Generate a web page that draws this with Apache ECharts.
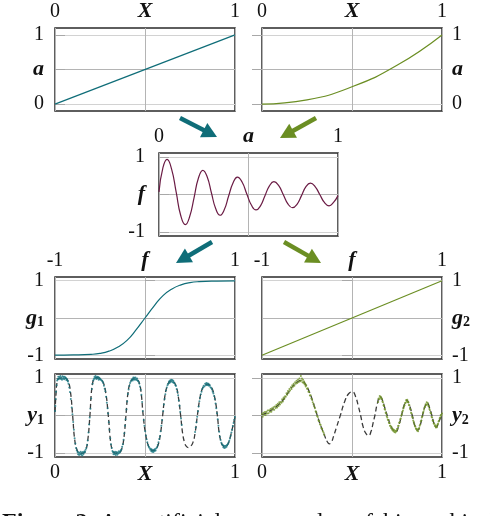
<!DOCTYPE html>
<html>
<head>
<meta charset="utf-8">
<script src="https://cdn.jsdelivr.net/npm/echarts@6/dist/echarts.min.js"></script>
<style>
  html, body { margin: 0; padding: 0; background: #fff; }
  #chart { width: 490px; height: 516px; }
</style>
</head>
<body>
<div id="chart"></div>
<script>
// X -> a (two encoders), a -> f, f -> g1 / g2, X -> y1 / y2
var aLinear = [[0, 0], [1, 1]];
var aSquare = [[0, 0], [0.25, 0.06], [0.5, 0.25], [0.75, 0.56], [1, 1]];
var fCurve = [
  [0.000,0.07],[0.022,0.71],[0.045,0.93],[0.070,0.68],[0.096,0.06],[0.121,-0.55],[0.147,-0.80],
  [0.171,-0.59],[0.196,-0.08],[0.220,0.43],[0.245,0.64],[0.269,0.47],[0.293,0.04],[0.317,-0.38],
  [0.341,-0.55],[0.365,-0.40],[0.389,-0.04],[0.414,0.31],[0.438,0.46],[0.464,0.33],[0.490,0.02],
  [0.516,-0.28],[0.542,-0.41],[0.567,-0.30],[0.592,-0.03],[0.617,0.23],[0.642,0.34],[0.668,0.24],
  [0.694,0.00],[0.720,-0.25],[0.746,-0.35],[0.771,-0.26],[0.796,-0.03],[0.821,0.21],[0.846,0.30],
  [0.872,0.21],[0.898,0.00],[0.924,-0.21],[0.950,-0.30],[0.975,-0.21],[1.000,-0.03]
];
var g1Curve = [
  [-1,-0.995],[-0.8,-0.99],[-0.6,-0.975],[-0.5,-0.95],[-0.4,-0.89],[-0.3,-0.78],[-0.2,-0.6],[-0.1,-0.32],[0,0],
  [0.1,0.32],[0.2,0.6],[0.3,0.78],[0.4,0.89],[0.5,0.95],[0.6,0.975],[0.8,0.99],[1,0.995]
];
var g2Line = [[-1, -1], [1, 1]];

var y1Curve = [
  [0.000,0.10],[0.006,0.60],[0.012,0.90],[0.020,0.98],[0.046,1.00],[0.059,0.99],[0.072,0.92],[0.085,0.66],[0.098,0.00],
  [0.110,-0.66],[0.123,-0.92],[0.135,-0.99],[0.148,-1.00],[0.160,-0.99],[0.171,-0.92],[0.182,-0.66],[0.194,0.00],
  [0.203,0.66],[0.212,0.92],[0.222,0.99],[0.231,1.00],[0.247,0.99],[0.263,0.92],[0.280,0.66],[0.296,0.00],
  [0.308,-0.66],[0.319,-0.92],[0.331,-0.99],[0.343,-1.00],[0.356,-0.99],[0.368,-0.92],[0.381,-0.66],[0.394,0.00],
  [0.406,0.62],[0.419,0.88],[0.431,0.96],[0.444,0.98],[0.455,0.96],[0.467,0.88],[0.478,0.62],[0.490,0.00],
  [0.504,-0.51],[0.518,-0.79],[0.532,-0.90],[0.546,-0.93],[0.559,-0.90],[0.572,-0.79],[0.585,-0.51],[0.598,0.00],
  [0.610,0.50],[0.623,0.78],[0.635,0.89],[0.648,0.92],[0.660,0.89],[0.673,0.78],[0.685,0.50],[0.698,0.00],
  [0.709,-0.47],[0.720,-0.72],[0.730,-0.82],[0.741,-0.85],[0.753,-0.82],[0.766,-0.72],[0.778,-0.47],[0.791,0.00],
  [0.805,0.46],[0.818,0.70],[0.832,0.80],[0.846,0.83],[0.860,0.80],[0.874,0.70],[0.888,0.46],[0.902,0.00],
  [0.912,-0.46],[0.923,-0.70],[0.933,-0.80],[0.944,-0.83],[0.958,-0.78],[0.972,-0.60],[0.986,-0.33],[1.000,-0.05]
];
var y1Points = [
  [0.000,0.12],[0.002,0.25],[0.004,0.44],[0.006,0.63],[0.009,0.80],[0.012,0.93],[0.015,0.97],[0.018,1.03],[0.021,0.96],
  [0.024,1.02],[0.027,0.99],[0.030,1.05],[0.033,0.97],[0.036,1.01],[0.039,0.95],[0.042,1.04],[0.045,0.98],[0.048,1.02],
  [0.051,0.96],[0.054,1.03],[0.057,0.99],[0.060,1.00],[0.063,0.94],[0.066,0.97],[0.069,0.93],[0.072,0.90],[0.075,0.84],
  [0.079,0.74],[0.083,0.62],[0.088,0.44],[0.093,0.21],[0.097,0.03],
  [0.101,-0.17],[0.105,-0.38],[0.109,-0.60],[0.113,-0.74],[0.117,-0.86],[0.121,-0.92],[0.125,-0.97],[0.128,-1.03],
  [0.131,-0.98],[0.134,-1.05],[0.137,-0.99],[0.140,-1.02],[0.143,-0.96],[0.146,-1.04],[0.149,-1.00],[0.152,-1.06],
  [0.155,-0.97],[0.158,-1.02],[0.161,-0.98],[0.164,-0.95],[0.167,-0.97],[0.170,-0.91],[0.174,-0.86],[0.178,-0.78],
  [0.182,-0.66],[0.186,-0.45],[0.190,-0.24],[0.193,-0.05],
  [0.197,0.18],[0.201,0.45],[0.205,0.70],[0.209,0.84],[0.213,0.93],[0.216,0.97],[0.219,1.02],[0.222,0.98],[0.225,1.05],
  [0.228,1.01],[0.231,0.97],[0.234,1.03],[0.237,0.99],[0.240,1.02],[0.243,0.95],[0.246,1.00],[0.249,0.96],[0.252,0.97],
  [0.256,0.94],[0.260,0.93],[0.264,0.90],[0.268,0.86],[0.272,0.79],[0.276,0.71],[0.280,0.64],[0.284,0.50],[0.288,0.34],
  [0.292,0.19],[0.295,0.05],
  [0.299,-0.18],[0.303,-0.38],[0.307,-0.60],[0.311,-0.76],[0.315,-0.86],[0.319,-0.94],[0.322,-0.97],[0.325,-1.03],
  [0.328,-0.98],[0.331,-1.02],[0.334,-0.96],[0.337,-1.05],[0.340,-1.00],[0.343,-0.97],[0.346,-1.04],[0.349,-0.99],
  [0.352,-1.01],[0.355,-0.95],[0.358,-0.99],[0.361,-0.97],[0.365,-0.93],[0.369,-0.90],[0.373,-0.83],[0.377,-0.76],
  [0.381,-0.64],[0.385,-0.47],[0.389,-0.27],[0.392,-0.10],
  [0.397,0.16],[0.401,0.37],[0.405,0.57],[0.409,0.69],[0.413,0.78],[0.417,0.86],[0.421,0.90],[0.425,0.94],[0.429,0.97],
  [0.432,0.93],[0.435,1.01],[0.438,0.96],[0.441,1.00],[0.444,0.95],[0.447,1.01],[0.450,0.97],[0.453,0.94],[0.456,0.98],
  [0.460,0.92],[0.464,0.90],[0.468,0.85],[0.472,0.77],[0.476,0.68],[0.480,0.55],[0.484,0.36],[0.488,0.12],
  [0.493,-0.12],[0.497,-0.27],[0.501,-0.42],[0.505,-0.53],[0.509,-0.63],[0.513,-0.71],[0.517,-0.78],[0.521,-0.83],
  [0.525,-0.86],[0.529,-0.91],[0.532,-0.88],[0.535,-0.95],[0.538,-0.90],[0.541,-0.96],[0.544,-0.92],[0.547,-0.97],
  [0.550,-0.91],[0.553,-0.94],[0.556,-0.89],[0.559,-0.93],[0.563,-0.87],[0.567,-0.84],[0.571,-0.78],[0.575,-0.71],
  [0.579,-0.62],[0.583,-0.55],[0.587,-0.42],[0.591,-0.27],[0.595,-0.12],
  [0.601,0.12],[0.605,0.29],[0.609,0.44],[0.613,0.56],[0.617,0.66],[0.621,0.74],[0.625,0.80],[0.629,0.84],[0.633,0.90],
  [0.636,0.86],[0.639,0.93],[0.642,0.89],[0.645,0.95],[0.648,0.91],[0.651,0.94],[0.654,0.88],[0.657,0.92],[0.660,0.87],
  [0.664,0.86],[0.668,0.81],[0.672,0.78],[0.676,0.70],[0.680,0.62],[0.684,0.54],[0.688,0.40],[0.692,0.26],[0.696,0.10],
  [0.700,-0.08],[0.704,-0.25],
  [0.778,-0.44],[0.782,-0.32],[0.786,-0.18],[0.790,-0.03],
  [0.794,0.11],[0.798,0.24],[0.802,0.38],[0.806,0.47],[0.810,0.56],[0.814,0.63],[0.818,0.70],[0.822,0.74],[0.826,0.79],
  [0.830,0.77],[0.834,0.84],[0.838,0.80],[0.841,0.86],[0.844,0.81],[0.847,0.85],[0.850,0.80],[0.853,0.84],[0.856,0.79],
  [0.860,0.80],[0.864,0.75],[0.868,0.73],[0.872,0.69],[0.876,0.63],[0.880,0.58],[0.884,0.52],[0.888,0.44],[0.892,0.32],
  [0.896,0.19],[0.900,0.06],
  [0.904,-0.10],[0.908,-0.27],[0.912,-0.43],[0.916,-0.56],[0.920,-0.65],[0.924,-0.72],[0.928,-0.77],[0.932,-0.78],
  [0.935,-0.84],[0.938,-0.80],[0.941,-0.86],[0.944,-0.81],[0.947,-0.85],[0.950,-0.80],[0.953,-0.83],[0.956,-0.78],
  [0.960,-0.76],[0.964,-0.72],[0.968,-0.67],[0.972,-0.61],[0.976,-0.54],[0.980,-0.45],[0.984,-0.38],[0.988,-0.28],
  [0.992,-0.20],[0.996,-0.11],[1.000,-0.04]
];

var y2Curve = [
  [0.000,0.02],[0.030,0.08],[0.060,0.17],[0.090,0.28],[0.120,0.43],[0.150,0.64],[0.175,0.80],[0.200,0.90],[0.215,0.93],
  [0.230,0.90],[0.245,0.80],[0.260,0.66],[0.275,0.48],[0.290,0.26],[0.305,0.03],[0.320,-0.19],[0.335,-0.38],[0.350,-0.56],
  [0.362,-0.69],[0.374,-0.75],[0.385,-0.71],[0.397,-0.56],[0.412,-0.34],[0.435,0.00],[0.460,0.38],[0.480,0.57],[0.502,0.63],
  [0.520,0.50],[0.535,0.25],[0.548,0.00],[0.562,-0.30],[0.578,-0.48],[0.592,-0.53],[0.606,-0.42],[0.617,-0.20],[0.628,0.02],
  [0.640,0.30],[0.656,0.50],[0.668,0.42],[0.680,0.24],[0.700,-0.06],[0.720,-0.32],[0.743,-0.43],[0.760,-0.26],[0.775,0.00],
  [0.790,0.28],[0.805,0.40],[0.820,0.26],[0.835,0.00],[0.850,-0.28],[0.866,-0.39],[0.880,-0.24],[0.892,0.00],[0.905,0.24],
  [0.918,0.33],[0.931,0.20],[0.944,0.00],[0.956,-0.22],[0.968,-0.31],[0.984,-0.15],[1.000,0.02]
];
var y2Points = [
  [0.000,0.04],[0.004,-0.03],[0.008,0.07],[0.012,0.02],[0.016,0.09],[0.020,0.01],[0.024,0.10],[0.028,0.05],[0.032,0.13],
  [0.036,0.06],[0.040,0.14],[0.044,0.10],[0.048,0.17],[0.052,0.10],[0.056,0.19],[0.060,0.15],[0.064,0.22],[0.068,0.15],
  [0.072,0.24],[0.076,0.20],[0.080,0.28],[0.084,0.21],[0.088,0.31],[0.092,0.25],[0.096,0.35],[0.100,0.29],[0.104,0.36],
  [0.108,0.34],[0.112,0.43],[0.116,0.37],[0.120,0.48],[0.124,0.44],[0.128,0.51],[0.132,0.50],[0.136,0.59],[0.140,0.55],
  [0.144,0.65],[0.148,0.60],[0.152,0.70],[0.156,0.66],[0.160,0.75],[0.164,0.70],[0.168,0.80],[0.172,0.76],[0.176,0.84],
  [0.180,0.79],[0.184,0.88],[0.188,0.84],[0.192,0.92],[0.196,0.86],[0.200,0.95],[0.204,0.89],[0.208,0.98],[0.212,0.91],
  [0.216,1.05],[0.219,0.93],[0.222,0.98],[0.225,0.88],[0.228,0.95],[0.231,0.86],[0.234,0.90],[0.237,0.82],[0.240,0.85],
  [0.243,0.77],[0.246,0.80],[0.250,0.71],[0.254,0.72],[0.258,0.63],[0.262,0.63],[0.266,0.53],[0.270,0.54],[0.274,0.45],
  [0.278,0.42],[0.282,0.35],[0.286,0.30],[0.290,0.24],[0.294,0.19],[0.298,0.11],[0.302,0.08],[0.306,-0.01],[0.310,-0.04],
  [0.314,-0.13],[0.318,-0.15],[0.322,-0.23],[0.326,-0.25],[0.330,-0.34],[0.334,-0.35],[0.338,-0.42],[0.342,-0.45],
  [0.346,-0.51],
  [0.645,0.36],[0.648,0.45],[0.651,0.43],[0.654,0.52],[0.657,0.47],[0.660,0.50],[0.663,0.44],[0.666,0.45],[0.669,0.37],
  [0.672,0.35],[0.675,0.27],[0.678,0.25],[0.681,0.17],[0.684,0.15],[0.687,0.07],[0.690,0.05],[0.693,-0.02],[0.696,-0.05],
  [0.699,-0.11],[0.702,-0.12],[0.705,-0.19],[0.708,-0.20],[0.711,-0.27],[0.714,-0.27],[0.717,-0.33],[0.720,-0.31],
  [0.723,-0.38],[0.726,-0.36],[0.729,-0.41],[0.732,-0.38],[0.735,-0.44],[0.738,-0.40],[0.741,-0.45],[0.744,-0.41],
  [0.747,-0.42],[0.750,-0.36],[0.753,-0.36],[0.756,-0.28],[0.759,-0.27],[0.762,-0.19],[0.765,-0.18],[0.768,-0.10],
  [0.771,-0.08],[0.774,0.00],[0.777,0.03],[0.780,0.10],[0.783,0.13],[0.786,0.19],[0.789,0.23],[0.792,0.27],[0.795,0.33],
  [0.798,0.34],[0.801,0.41],[0.804,0.37],[0.807,0.42],[0.810,0.35],[0.813,0.36],[0.816,0.28],[0.819,0.27],[0.822,0.18],
  [0.825,0.16],[0.828,0.07],[0.831,0.05],[0.834,-0.03],[0.837,-0.06],[0.840,-0.13],[0.843,-0.17],[0.846,-0.22],
  [0.849,-0.27],[0.852,-0.30],[0.855,-0.35],[0.858,-0.35],[0.861,-0.40],[0.864,-0.37],[0.867,-0.42],[0.870,-0.35],
  [0.873,-0.34],[0.876,-0.27],[0.879,-0.24],[0.882,-0.16],[0.885,-0.13],[0.888,-0.05],[0.891,-0.02],[0.894,0.06],
  [0.897,0.10],[0.900,0.15],[0.903,0.21],[0.906,0.23],[0.909,0.30],[0.912,0.28],[0.915,0.35],[0.918,0.30],[0.921,0.33],
  [0.924,0.26],[0.927,0.24],[0.930,0.17],[0.933,0.14],[0.936,0.07],[0.939,0.05],[0.942,-0.03],[0.945,-0.05],[0.948,-0.13],
  [0.951,-0.14],[0.954,-0.21],[0.957,-0.22],[0.960,-0.28],[0.963,-0.26],[0.966,-0.32],[0.969,-0.28],[0.972,-0.31],
  [0.975,-0.24],[0.978,-0.22],[0.981,-0.16],[0.984,-0.13],[0.987,-0.07],[0.990,-0.05],[0.993,0.01],[0.996,0.00],[1.000,0.05]
];

var captionWords = ['An', 'artificial', 'example', 'of', 'hierarchical'];
var captionX = [100, 140, 253, 353, 383];

var teal = '#0f6d78', green = '#6b8e23', plum = '#6a1b44', dashGray = '#3a3a3a';
var serif = 'Liberation Serif';

var panels = [
  { left: 55,  top: 28,  width: 180, height: 83 },
  { left: 262, top: 28,  width: 180, height: 83 },
  { left: 159, top: 153, width: 179, height: 83 },
  { left: 55,  top: 277, width: 180, height: 82 },
  { left: 262, top: 277, width: 180, height: 82 },
  { left: 55,  top: 374, width: 180, height: 83 },
  { left: 262, top: 374, width: 180, height: 83 }
];

var rich = {
  n: { fontFamily: serif, fontSize: 22, fontWeight: 'bold', fontStyle: 'italic', color: '#111' },
  s: { fontFamily: serif, fontSize: 14, fontWeight: 'bold', color: '#111', padding: [9, 0, 0, 0] }
};

function xAx(i, lo, hi, name, pos) {
  return {
    type: 'value', gridIndex: i, min: lo, max: hi, interval: (hi - lo) / 2, position: pos,
    axisLine: { show: false }, axisTick: { show: false },
    splitLine: { show: true, lineStyle: { color: '#b4b4b4', width: 1 } },
    axisLabel: {
      margin: 6, fontFamily: serif, fontSize: 20, color: '#111', rich: rich,
      formatter: function (v) { return v === (lo + hi) / 2 ? '{n|' + name + '}' : String(v); }
    }
  };
}

function yAx(i, lo, hi, ticks, name, pos, margin) {
  return {
    type: 'value', gridIndex: i, min: lo, max: hi, position: pos,
    axisLine: { show: false },
    axisTick: { show: true, inside: true, length: 10, customValues: ticks, lineStyle: { color: '#a8a8a8' } },
    splitLine: { show: true, lineStyle: { color: ['#d2d2d2', '#b4b4b4', '#d2d2d2'], width: 1 } },
    axisLabel: {
      customValues: ticks, margin: margin, fontFamily: serif, fontSize: 20, color: '#111', rich: rich,
      formatter: function (v) { return v === ticks[1] ? name : String(v); }
    }
  };
}

function lineSeries(i, data, color, smooth) {
  return {
    type: 'line', xAxisIndex: i, yAxisIndex: i, data: data, smooth: smooth,
    showSymbol: false, lineStyle: { color: color, width: 1.2 }, z: 3
  };
}

function dashedSeries(i, data) {
  return {
    type: 'line', xAxisIndex: i, yAxisIndex: i, data: data, smooth: true,
    showSymbol: false, lineStyle: { color: dashGray, width: 1.3, type: [5, 3] }, z: 2
  };
}

function dotSeries(i, data, color) {
  return {
    type: 'scatter', xAxisIndex: i, yAxisIndex: i, data: data,
    symbolSize: 2, itemStyle: { color: color }, z: 4
  };
}

function arrow(x0, y0, x1, y1, color) {
  var dx = x1 - x0, dy = y1 - y0, L = Math.sqrt(dx * dx + dy * dy);
  var ux = dx / L, uy = dy / L, hl = 15, hw = 8;
  var bx = x1 - ux * hl, by = y1 - uy * hl;
  return [
    { type: 'line', shape: { x1: x0, y1: y0, x2: bx + ux * 2, y2: by + uy * 2 },
      style: { stroke: color, lineWidth: 4.5 } },
    { type: 'polygon', shape: { points: [[x1, y1], [bx - uy * hw, by + ux * hw], [bx + uy * hw, by - ux * hw]] },
      style: { fill: color } }
  ];
}

var chart = echarts.init(document.getElementById('chart'), null, { renderer: 'canvas' });

var grids = panels.map(function (p) {
  return { left: p.left, top: p.top, width: p.width, height: p.height, show: true,
           borderColor: '#2a2a2a', borderWidth: 1.5, backgroundColor: 'transparent', containLabel: false };
});

var graphics = []
  .concat(arrow(180, 118, 217, 137, teal))
  .concat(arrow(316, 118, 280, 138, green))
  .concat(arrow(212, 242, 176, 263, teal))
  .concat(arrow(284, 242, 321, 263, green));
graphics.push({ type: 'text', left: 2, top: 511,
  style: { text: 'Figure 2:', font: 'bold 24px "Liberation Serif"', fill: '#111' } });
captionWords.forEach(function (w, k) {
  graphics.push({ type: 'text', left: captionX[k], top: 511,
    style: { text: w, font: '24px "Liberation Serif"', fill: '#111' } });
});

chart.setOption({
  animation: false,
  backgroundColor: '#fff',
  grid: grids,
  xAxis: [
    xAx(0, 0, 1, 'X', 'top'),
    xAx(1, 0, 1, 'X', 'top'),
    xAx(2, 0, 1, 'a', 'top'),
    xAx(3, -1, 1, 'f', 'top'),
    xAx(4, -1, 1, 'f', 'top'),
    xAx(5, 0, 1, 'X', 'bottom'),
    xAx(6, 0, 1, 'X', 'bottom')
  ],
  yAxis: [
    yAx(0, -0.1, 1.1, [0, 0.5, 1], '{n|a}', 'left', 11),
    yAx(1, -0.1, 1.1, [0, 0.5, 1], '{n|a}', 'right', 10),
    yAx(2, -1.1, 1.1, [-1, 0, 1], '{n|f}', 'left', 14),
    yAx(3, -1.1, 1.1, [-1, 0, 1], '{n|g}{s|1}', 'left', 11),
    yAx(4, -1.1, 1.1, [-1, 0, 1], '{n|g}{s|2}', 'right', 10),
    yAx(5, -1.1, 1.1, [-1, 0, 1], '{n|y}{s|1}', 'left', 11),
    yAx(6, -1.1, 1.1, [-1, 0, 1], '{n|y}{s|2}', 'right', 10)
  ],
  series: [
    lineSeries(0, aLinear, teal, false),
    lineSeries(1, aSquare, green, true),
    lineSeries(2, fCurve, plum, true),
    lineSeries(3, g1Curve, teal, true),
    lineSeries(4, g2Line, green, false),
    dashedSeries(5, y1Curve),
    dotSeries(5, y1Points, '#177581'),
    dashedSeries(6, y2Curve),
    dotSeries(6, y2Points, '#6f9227')
  ],
  graphic: graphics
});
</script>
</body>
</html>
